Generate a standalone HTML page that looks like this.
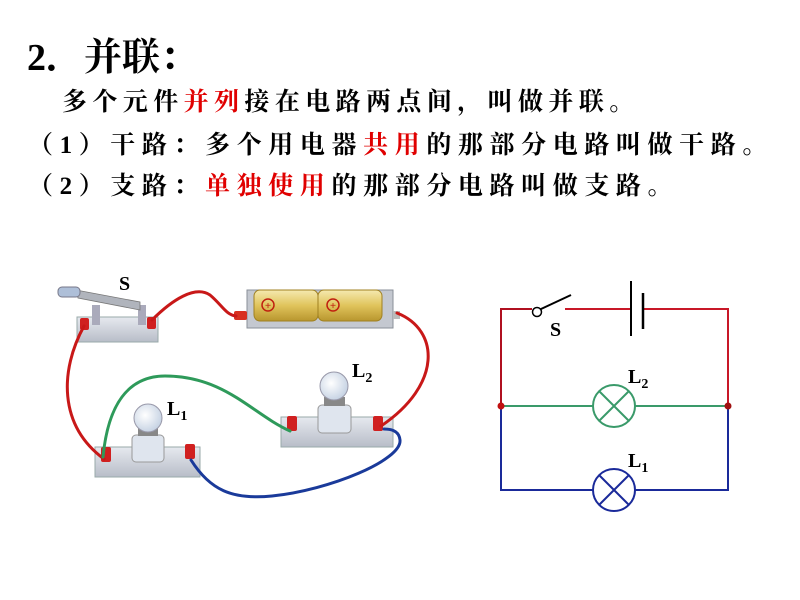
<!DOCTYPE html>
<html><head><meta charset="utf-8"><style>
body{margin:0;width:800px;height:600px;background:#fff;overflow:hidden;position:relative}
.t{position:absolute;white-space:nowrap;font-family:"Liberation Serif","Noto Serif CJK SC",serif;font-weight:bold;color:#000}
.l{font-size:25px;letter-spacing:6.6px;line-height:30px}
.r{color:#e00000}
</style></head><body>
<div class="t" style="left:27px;top:36px;font-size:38px;line-height:44px">2．并联：</div>
<div class="t l" style="left:62px;top:88px;letter-spacing:5.4px">多个元件<span class="r">并列</span>接在电路两点间，叫做并联。</div>
<div class="t l" style="left:28px;top:131px">（1）干路：多个用电器<span class="r">共用</span>的那部分电路叫做干路。</div>
<div class="t l" style="left:28px;top:172px">（2）支路：<span class="r">单独使用</span>的那部分电路叫做支路。</div>
<svg width="800" height="600" style="position:absolute;left:0;top:0" font-family="Liberation Serif,serif" font-weight="bold">
<defs>
<linearGradient id="bat" x1="0" y1="0" x2="0" y2="1"><stop offset="0" stop-color="#f5e9b0"/><stop offset="0.5" stop-color="#e0c45c"/><stop offset="1" stop-color="#b8962e"/></linearGradient>
<linearGradient id="base" x1="0" y1="0" x2="0" y2="1"><stop offset="0" stop-color="#e6e9ef"/><stop offset="1" stop-color="#b8bdc8"/></linearGradient>
<radialGradient id="bulb" cx="0.4" cy="0.4" r="0.6"><stop offset="0" stop-color="#fff"/><stop offset="1" stop-color="#c8d4e4"/></radialGradient>
</defs>
<rect x="77" y="317" width="81" height="25" fill="url(#base)" stroke="#9aa" stroke-width="1"/>
<rect x="92" y="305" width="8" height="20" fill="#aab"/>
<rect x="138" y="305" width="8" height="20" fill="#aab"/>
<polygon points="76,290 140,302 140,310 78,298" fill="#b0b4bc" stroke="#777" stroke-width="0.8"/>
<rect x="58" y="287" width="22" height="10" rx="4" fill="#aebfd8" stroke="#778"/>
<rect x="80" y="318" width="9" height="12" fill="#d02020" rx="2"/>
<rect x="147" y="317" width="9" height="12" fill="#d02020" rx="2"/>
<text x="119" y="290" font-size="20">S</text>
<rect x="247" y="290" width="146" height="38" fill="#c4c8d0" stroke="#8a8f98"/>
<rect x="254" y="290" width="64" height="31" rx="6" fill="url(#bat)" stroke="#a08020"/>
<rect x="318" y="290" width="64" height="31" rx="6" fill="url(#bat)" stroke="#a08020"/>
<circle cx="268" cy="305" r="6" fill="none" stroke="#c02010" stroke-width="1.5"/><text x="268" y="309" font-size="11" text-anchor="middle" fill="#c02010">+</text>
<circle cx="333" cy="305" r="6" fill="none" stroke="#c02010" stroke-width="1.5"/><text x="333" y="309" font-size="11" text-anchor="middle" fill="#c02010">+</text>
<rect x="234" y="311" width="13" height="9" rx="2" fill="#d83020"/>
<rect x="393" y="311" width="7" height="8" fill="#bbb"/>
<rect x="95" y="447" width="105" height="30" fill="url(#base)" stroke="#9aa"/>
<rect x="132" y="435" width="32" height="27" rx="4" fill="#dfe5ee" stroke="#999"/>
<rect x="138" y="428" width="20" height="8" fill="#888"/>
<circle cx="148" cy="418" r="14" fill="url(#bulb)" stroke="#99a"/>
<rect x="101" y="447" width="10" height="15" rx="2" fill="#d02020"/>
<rect x="185" y="444" width="10" height="15" rx="2" fill="#d02020"/>
<text x="167" y="415" font-size="20">L<tspan font-size="14" dy="5">1</tspan></text>
<rect x="281" y="417" width="112" height="30" fill="url(#base)" stroke="#9aa"/>
<rect x="318" y="405" width="33" height="28" rx="4" fill="#dfe5ee" stroke="#999"/>
<rect x="324" y="397" width="21" height="9" fill="#888"/>
<circle cx="334" cy="386" r="14" fill="url(#bulb)" stroke="#99a"/>
<rect x="287" y="416" width="10" height="15" rx="2" fill="#d02020"/>
<rect x="373" y="416" width="10" height="15" rx="2" fill="#d02020"/>
<text x="352" y="377" font-size="20">L<tspan font-size="14" dy="5">2</tspan></text>
<g fill="none" stroke-width="3" stroke-linecap="round">
<path d="M84,326 C60,370 58,425 104,459" stroke="#c81818"/>
<path d="M152,320 C172,300 195,285 210,295 C222,305 226,315 236,316" stroke="#c81818"/>
<path d="M397,313 C440,330 442,385 381,426" stroke="#c81818"/>
<path d="M103,457 C108,405 128,376 165,376 C225,376 252,414 290,431" stroke="#2e9a5a"/>
<path d="M191,460 C210,490 232,500 272,496 C330,490 402,460 400,440 C399,430 390,429 384,429" stroke="#1a3a9a"/>
</g>
<g fill="none" stroke-width="2">
<path d="M501,406 V309 H532" stroke="#b01020"/>
<path d="M565,309 H631 M643,309 H728 V406" stroke="#c81828"/>
<circle cx="537" cy="312" r="4.5" stroke="#000" stroke-width="1.5" fill="#fff"/>
<line x1="541" y1="309" x2="571" y2="295" stroke="#000"/>
<line x1="631" y1="281" x2="631" y2="336" stroke="#000"/>
<line x1="643" y1="293" x2="643" y2="329" stroke="#000" stroke-width="2.5"/>
<path d="M501,406 H593 M635,406 H728" stroke="#3a9a6a"/>
<circle cx="614" cy="406" r="21" stroke="#3a9a6a"/>
<path d="M599,391 L629,421 M629,391 L599,421" stroke="#3a9a6a"/>
<path d="M501,406 V490 H593 M635,490 H728 V406" stroke="#1a2a9a"/>
<circle cx="614" cy="490" r="21" stroke="#1a2a9a"/>
<path d="M599,475 L629,505 M629,475 L599,505" stroke="#1a2a9a"/>
</g>
<circle cx="501" cy="406" r="3.5" fill="#c01010"/>
<circle cx="728" cy="406" r="3.5" fill="#a01010"/>
<text x="550" y="336" font-size="20">S</text>
<text x="628" y="383" font-size="20">L<tspan font-size="14" dy="5">2</tspan></text>
<text x="628" y="467" font-size="20">L<tspan font-size="14" dy="5">1</tspan></text>
</svg>
</body></html>
